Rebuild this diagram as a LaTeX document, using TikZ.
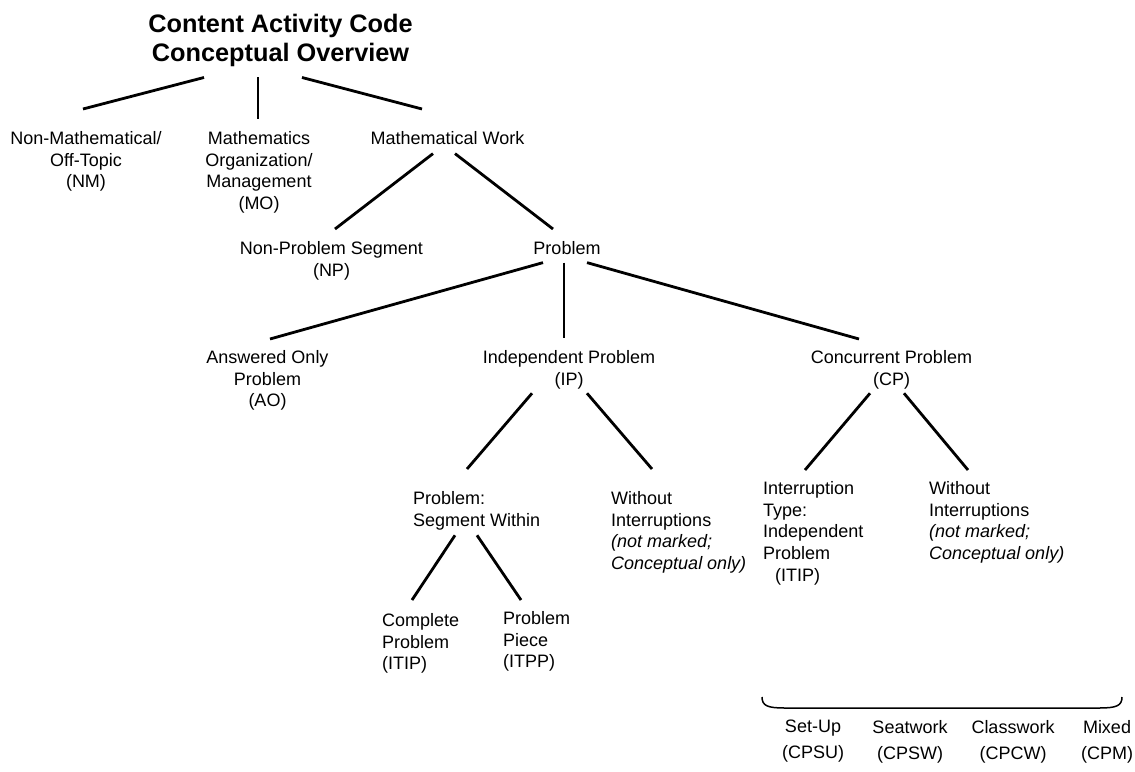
\documentclass[tikz,border=0pt]{standalone}
\usepackage{fontspec}
\setmainfont{Liberation Sans}
\usetikzlibrary{calc}

\begin{document}
\begin{tikzpicture}[x=1pt, y=-1pt,
  box/.style={align=center, inner sep=0pt, anchor=north, font=\fontsize{18}{21.8}\selectfont},
  leftbox/.style={align=left, inner sep=0pt, anchor=north west, font=\fontsize{18}{21.8}\selectfont},
  branch/.style={line width=2.8pt}]
\useasboundingbox (0,0) rectangle (1135,771);

% title
\node[box, font=\fontsize{25.3}{29}\selectfont\bfseries, name=title] at (280.5,14) {Content Activity Code\\Conceptual Overview};

% code texts
\node[box, name=nm] at (86,131) {Non-Mathematical/\\Off-Topic\\(NM)};
\node[box, name=mo] at (259,131) {Mathematics\\Organization/\\Management\\(MO)};
\node[box, name=mw] at (447.5,131) {Mathematical Work};
\node[box, name=np] at (331.5,241) {Non-Problem Segment\\(NP)};
\node[box, name=prob] at (567,241) {Problem};
\node[box, name=ao] at (267.5,350) {Answered Only\\Problem\\(AO)};
\node[box, name=ip] at (569,350) {Independent Problem\\(IP)};
\node[box, name=cp] at (891.5,350) {Concurrent Problem\\(CP)};
\node[leftbox, name=psw] at (413,491) {Problem:\\Segment Within};
\node[leftbox, name=ipwo] at (611,491) {Without\\Interruptions\\\textit{(not marked;}\\\textit{Conceptual only)}};
\node[leftbox, name=comp] at (382,613) {Complete\\Problem\\(ITIP)};
\node[leftbox, name=piece] at (503,611) {Problem\\Piece\\(ITPP)};
\node[leftbox, name=itip] at (763,481) {Interruption\\Type:\\Independent\\Problem\\\hspace*{12pt}(ITIP)};
\node[leftbox, name=cpwo] at (929,481) {Without\\Interruptions\\\textit{(not marked;}\\\textit{Conceptual only)}};

% concurrent problem kinds
\node[box, font=\fontsize{18}{26}\selectfont, name=su] at (813,720) {Set-Up\\(CPSU)};
\node[box, font=\fontsize{18}{26}\selectfont, name=sw] at (910,720) {Seatwork\\(CPSW)};
\node[box, font=\fontsize{18}{26}\selectfont, name=cw] at (1013,720) {Classwork\\(CPCW)};
\node[box, font=\fontsize{18}{26}\selectfont, name=mx] at (1107,720) {Mixed\\(CPM)};

% connections
\draw[branch] ([shift={(-76.5,10.5)}]title.south) -- ([shift={(-3,-22)}]nm.north);
\draw[branch] ([shift={(-22.5,10.5)}]title.south) -- ([shift={(-1,-12)}]mo.north);
\draw[branch] ([shift={(21.5,10.5)}]title.south) -- ([shift={(-25.5,-22)}]mw.north);
\draw[branch] ([shift={(-14.5,9)}]mw.south) -- ([shift={(3.5,-12)}]np.north);
\draw[branch] ([shift={(7.5,9)}]mw.south) -- ([shift={(-14,-12)}]prob.north);
\draw[branch] ([shift={(-24,8)}]prob.south) -- ([shift={(2.5,-11)}]ao.north);
\draw[branch] ([shift={(-3,8)}]prob.south) -- ([shift={(-5,-12)}]ip.north);
\draw[branch] ([shift={(20,8)}]prob.south) -- ([shift={(-32.5,-11)}]cp.north);
\draw[branch] ([shift={(-37,4.3)}]ip.south) -- ([shift={(54,-22)}]psw.north west);
\draw[branch] ([shift={(18,4.3)}]ip.south) -- ([shift={(41,-22)}]ipwo.north west);
\draw[branch] ([shift={(-21.5,4.3)}]cp.south) -- ([shift={(42,-11)}]itip.north west);
\draw[branch] ([shift={(12.5,4.3)}]cp.south) -- ([shift={(39,-11)}]cpwo.north west);
\draw[branch] ([shift={(42,5.3)}]psw.south west) -- ([shift={(30,-13)}]comp.north west);
\draw[branch] ([shift={(64,5.3)}]psw.south west) -- ([shift={(18,-11)}]piece.north west);

% brace over the kinds
\draw[line width=1.5pt] (762,697) .. controls (762,706) and (768,708) .. (785,708) -- (1099,708) .. controls (1116,708) and (1122,706) .. (1122,697);
\end{tikzpicture}
\end{document}
